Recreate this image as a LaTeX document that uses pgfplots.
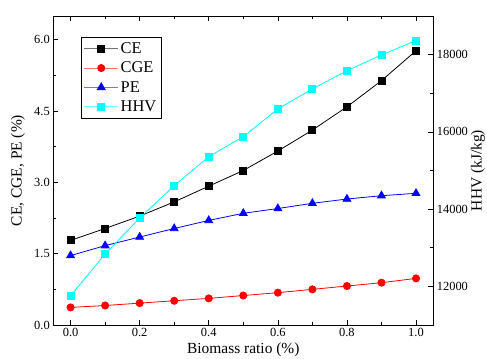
\documentclass[border=0pt]{standalone}
\usepackage{pgfplots}
\pgfplotsset{compat=1.18}
\usepackage{fontspec}
\setmainfont{Liberation Serif}
\definecolor{mycyan}{RGB}{0,255,255}
\begin{document}
\begin{tikzpicture}
\pgfplotsset{
  every axis/.append style={
    scale only axis, width=380bp, height=309bp,
    xmin=-0.05, xmax=1.05,
    tick align=inside,
    major tick length=5bp, minor tick length=3bp,
    every tick/.style={black, line width=0.6pt},
    axis line style={line width=0.9pt},
    tick label style={font=\fontsize{12.5}{14}\selectfont},
    label style={font=\fontsize{15.5}{18}\selectfont},
    /pgf/number format/assume math mode=true,
  },
}
\begin{axis}[name=a,
  ymin=0, ymax=6.5,
  xtick={0,0.2,0.4,0.6,0.8,1.0},
  ytick={0,1.5,3,4.5,6},
  minor x tick num=1, minor y tick num=1,
  ytick pos=left,
  xticklabel style={/pgf/number format/.cd, fixed, fixed zerofill, precision=1},
  yticklabel style={/pgf/number format/.cd, fixed, fixed zerofill, precision=1},
  xlabel={Biomass ratio (\%)}, ylabel={CE, CGE, PE (\%)},
  x label style={at={(axis description cs:0.5,-0.081)}, anchor=center},
  y label style={at={(axis description cs:-0.093,0.5)}, anchor=center},
  legend style={at={(axis description cs:0.072,0.931)}, anchor=north west,
    font=\fontsize{16.5}{18}\selectfont, draw=black, row sep=3bp, inner sep=3bp},
  legend cell align=left,
  legend image code/.code={
    \draw[#1, draw opacity=0.55, mark=none] (0bp,0bp) -- (34bp,0bp);
    \draw[#1, only marks] plot coordinates {(17bp,0bp)};
  },
]
\addplot[black, line width=0.8pt, mark=square*, mark size=3.5bp] coordinates {
(0,1.78) (0.1,2.03) (0.2,2.29) (0.3,2.59) (0.4,2.92) (0.5,3.25) (0.6,3.66) (0.7,4.10) (0.8,4.59) (0.9,5.14) (1.0,5.77)};
\addlegendentry{CE}
\addplot[red, line width=0.8pt, mark=*, mark size=3.6bp] coordinates {
(0,0.37) (0.1,0.41) (0.2,0.46) (0.3,0.51) (0.4,0.56) (0.5,0.62) (0.6,0.68) (0.7,0.75) (0.8,0.82) (0.9,0.89) (1.0,0.98)};
\addlegendentry{CGE}
\addplot[blue, line width=0.8pt, mark=triangle*, mark size=4.5bp] coordinates {
(0,1.46) (0.1,1.67) (0.2,1.85) (0.3,2.03) (0.4,2.20) (0.5,2.35) (0.6,2.45) (0.7,2.56) (0.8,2.65) (0.9,2.72) (1.0,2.77)};
\addlegendentry{PE}
\addlegendimage{mycyan, line width=0.8pt, mark=square*, mark size=3.5bp}
\addlegendentry{HHV}
\end{axis}
\begin{axis}[
  ymin=11000, ymax=19000,
  axis x line=none, axis y line*=right,
  ytick={12000,14000,16000,18000},
  minor y tick num=1,
  scaled y ticks=false,
  yticklabel style={/pgf/number format/1000 sep={}},
  ylabel={HHV (kJ/kg)},
  y label style={at={(axis description cs:1.1176,0.5)}, anchor=center},
]
\addplot[mycyan, line width=0.8pt, mark=square*, mark size=3.5bp] coordinates {
(0,11756) (0.1,12837) (0.2,13769) (0.3,14606) (0.4,15358) (0.5,15876) (0.6,16593) (0.7,17111) (0.8,17585) (0.9,17992) (1.0,18363)};
\end{axis}
\pgfresetboundingbox
\path[use as bounding box] (a.south west) ++(-53.3bp,-34bp) rectangle ++(487bp,359bp);
\end{tikzpicture}
\end{document}
